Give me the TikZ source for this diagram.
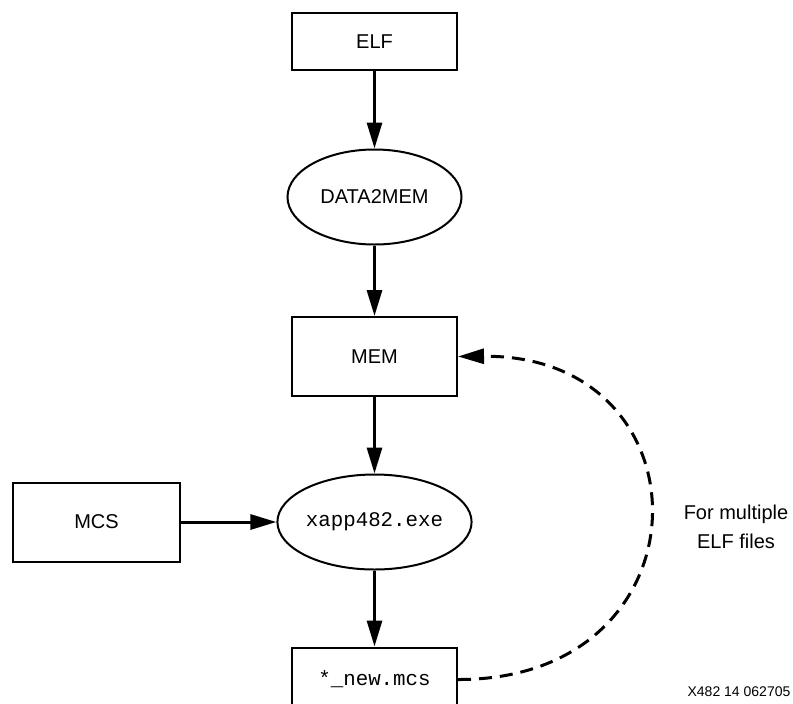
\documentclass[tikz,border=0pt]{standalone}
\usepackage{fontspec}
\setmainfont{Liberation Sans}
\setmonofont{Liberation Mono}
\usetikzlibrary{
  arrows.meta,
  shapes.geometric
}
\tikzset{
  >={Triangle[length=13pt,width=7.5pt]},
  flow/.style={->,line width=1.5pt,draw=black},
  loop flow/.style={->,line width=1.5pt,draw=black,dash pattern=on 6.5pt off 4pt},
  file/.style={
    draw=black,
    line width=1pt,
    fill=white,
    align=center,
    inner sep=0pt,
    minimum width=82.5pt,
    font=\fontsize{10}{12}\selectfont
  },
  tool/.style={
    ellipse,
    draw=black,
    line width=1pt,
    fill=white,
    inner sep=0pt,
    minimum width=87pt,
    minimum height=47.5pt,
    font=\fontsize{10}{12}\selectfont
  },
  code/.style={font=\fontsize{10.4}{12}\ttfamily},
  note/.style={align=center,font=\fontsize{10}{14.5}\selectfont}
}

\begin{document}
\begin{tikzpicture}[x=.5pt,y=-.5pt]
  \clip (0,0) rectangle (793,703);

  \node[file,minimum height=28.5pt] (elf) at (374.5,41.5) {ELF};
  \node[tool] (d2m) at (374.5,197) {DATA2MEM};
  \node[file,minimum height=39.5pt] (mem) at (374.5,356.5) {MEM};
  \node[tool,code] (xapp) at (374.5,522) {xapp482.exe};
  \node[file,minimum height=39.5pt,minimum width=83.5pt] (mcs) at (96.5,522) {MCS};
  \node[file,code,minimum height=32pt] (newmcs) at (374.5,679.5) {*\_new.mcs};

  \draw[flow] (elf) -- (d2m);
  \draw[flow] (d2m) -- (mem);
  \draw[flow] (mem) -- (xapp);
  \draw[flow] (mcs) -- (xapp);
  \draw[flow] (xapp) -- (newmcs);
  \draw[loop flow] (newmcs.east) .. controls (713,680) and (713,354) .. (mem.east);

  \node[note] (loopnote) at (736,527) {For multiple\\ELF files};
  \node[font=\fontsize{7}{8}\selectfont] (figid) at (739,692) {X482 14 062705};
\end{tikzpicture}
\end{document}
